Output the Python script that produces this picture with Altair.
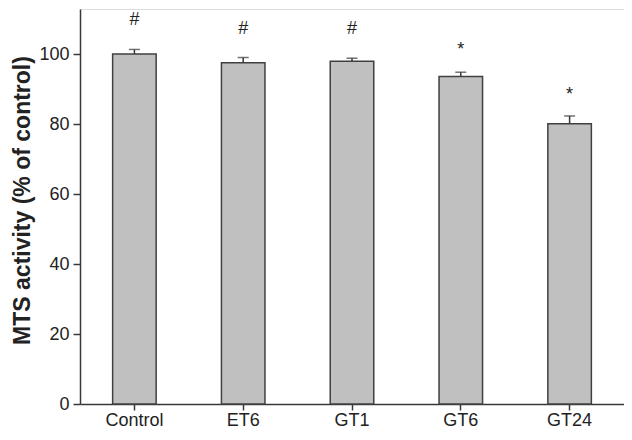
import altair as alt
import pandas as pd

groups = ["Control", "ET6", "GT1", "GT6", "GT24"]
means = [100.0, 97.5, 97.9, 93.6, 80.1]
uppers = [101.3, 99.0, 98.8, 94.8, 82.3]
marks = ["#", "#", "#", "*", "*"]
mark_y = [109.8, 107.1, 107.1, 101.1, 88.3]

df = pd.DataFrame({"group": groups, "mean": means, "upper": uppers,
                   "mark": marks, "mark_y": mark_y})

FONT = "Liberation Sans"
AX = "#383838"
TXT = "#222222"

x = alt.X("group:N", sort=groups, title=None,
          scale=alt.Scale(paddingInner=0.6, paddingOuter=0.3),
          axis=alt.Axis(labelAngle=0, labelFontSize=18, labelFont=FONT,
                        labelColor=TXT, tickSize=6, tickColor=AX,
                        domainColor=AX, domainWidth=1.5, tickWidth=1.5,
                        labelPadding=1))
yscale = alt.Scale(domain=[0, 112.86], nice=False, zero=True)

base = alt.Chart(df)

bars = base.mark_bar(color="#c0c0c0", stroke="#404040", strokeWidth=1.5).encode(
    x=x,
    y=alt.Y("mean:Q", scale=yscale,
            axis=alt.Axis(values=[0, 20, 40, 60, 80, 100], grid=False,
                          labelFontSize=18, labelFont=FONT, labelColor=TXT,
                          tickSize=7, tickColor=AX, tickWidth=1.5,
                          domainColor=AX, domainWidth=1.5, labelPadding=4,
                          title="MTS activity (% of control)",
                          titleFont=FONT, titleFontSize=23, titleFontWeight="bold",
                          titleColor=TXT, titleX=-51, titleY=191,
                          titleAngle=-90, titleAlign="center",
                          titleBaseline="alphabetic")),
)

err = base.mark_rule(color=AX, strokeWidth=1.5).encode(
    x=alt.X("group:N", sort=groups),
    y=alt.Y("mean:Q", scale=yscale),
    y2="upper:Q",
)

cap = base.mark_tick(color=AX, thickness=1.5, size=11, orient="horizontal").encode(
    x=alt.X("group:N", sort=groups),
    y=alt.Y("upper:Q", scale=yscale),
)

labels = base.mark_text(font=FONT, fontSize=18, color=TXT,
                        baseline="middle", align="center").encode(
    x=alt.X("group:N", sort=groups),
    y=alt.Y("mark_y:Q", scale=yscale),
    text="mark:N",
)

chart = (bars + err + cap + labels).properties(
    width=544, height=395,
    autosize=alt.AutoSizeParams(type="none"),
    padding={"left": 72, "top": 1, "right": 0, "bottom": 28},
).configure_view(stroke=AX, strokeWidth=1.5).configure(background="white")

chart.save("out.html", embed_options={"renderer": "svg", "actions": False})
